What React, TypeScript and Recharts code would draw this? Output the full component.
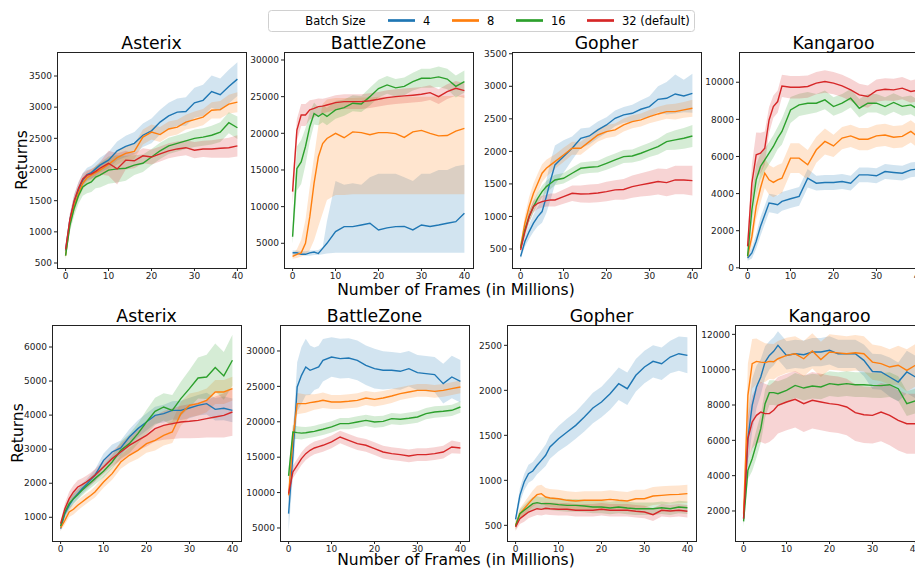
import React from "react";
import { ComposedChart, Area, Line, XAxis, YAxis } from "recharts";

// frames in millions, sampled every unit early on and every 2 later
const frames = [0, 1, 2, 3, 4, 5, 6, 7, 8, 10, 12, 14, 16, 18, 20, 22, 24, 26, 28, 30, 32, 34, 36, 38, 40];
const frameTicks = [0, 10, 20, 30, 40];
const batchSizes = ["4", "8", "16", "32 (default)"];
const colors = ["#1f77b4", "#ff7f0e", "#2ca02c", "#d62728"];

// ---- top row ----
const tAstB = [700, 1190, 1480, 1670, 1830, 1920, 1950, 2010, 2070, 2150, 2300, 2370, 2420, 2550, 2620, 2760, 2860, 2920, 2930, 3070, 3110, 3250, 3200, 3330, 3450];
const tAstBsd = [60, 100, 120, 120, 110, 110, 110, 110, 120, 130, 150, 170, 180, 190, 200, 200, 210, 220, 230, 240, 250, 260, 260, 270, 270];
const tAstO = [620, 1150, 1420, 1620, 1780, 1870, 1910, 1950, 1990, 2080, 2190, 2260, 2290, 2520, 2600, 2560, 2650, 2680, 2760, 2800, 2840, 2950, 2960, 3050, 3080];
const tAstOsd = [50, 90, 100, 100, 100, 100, 100, 100, 100, 100, 110, 110, 120, 120, 120, 120, 120, 120, 120, 130, 130, 130, 140, 150, 160];
const tAstG = [620, 1100, 1380, 1580, 1720, 1770, 1800, 1880, 1910, 1990, 2010, 2020, 2070, 2100, 2200, 2300, 2380, 2420, 2460, 2500, 2520, 2550, 2600, 2750, 2670];
const tAstGsd = [60, 100, 120, 130, 140, 150, 160, 180, 200, 220, 220, 200, 160, 140, 130, 130, 130, 130, 130, 140, 140, 150, 160, 170, 180];
const tAstR = [720, 1200, 1500, 1700, 1850, 1910, 1930, 1970, 2020, 2100, 2010, 2150, 2140, 2220, 2200, 2250, 2300, 2330, 2350, 2310, 2330, 2330, 2340, 2350, 2380];
const tAstRsd = [60, 90, 100, 100, 90, 80, 80, 80, 100, 200, 250, 150, 120, 120, 120, 120, 120, 120, 120, 130, 130, 140, 150, 160, 170];

const tBzB = [3700, 3700, 3500, 3500, 3700, 3800, 3600, 4300, 5000, 6600, 7270, 7270, 7500, 7730, 6820, 7100, 7270, 7300, 6820, 7500, 7300, 7500, 7730, 7950, 9090];
const tBzBlo = [3400, 3400, 3400, 3300, 3300, 3400, 3400, 3500, 3600, 3700, 3700, 3700, 3700, 3700, 3700, 3700, 3700, 3700, 3700, 3700, 3700, 3700, 3700, 3700, 3700];
const tBzBhi = [4000, 4000, 3900, 3900, 4000, 4000, 4100, 4500, 8000, 13500, 13000, 13200, 13000, 14000, 14500, 14500, 14500, 14000, 13500, 14500, 14500, 15000, 15000, 15500, 15700];
const tBzO = [3200, 3500, 3700, 5000, 8600, 13200, 16800, 18600, 19300, 20000, 19400, 20200, 20100, 19800, 20100, 20100, 19950, 19450, 20200, 20400, 20000, 19650, 19700, 20300, 20680];
const tBzOlo = [2900, 3000, 3200, 3400, 4100, 5400, 7300, 9100, 10900, 11600, 11600, 11700, 11700, 11700, 11700, 11700, 11700, 11700, 11700, 11700, 11700, 11700, 11700, 11700, 11700];
const tBzOhi = [3600, 4200, 5500, 8200, 12700, 16800, 21000, 24000, 24600, 24800, 24800, 24800, 24900, 24900, 25000, 25000, 25000, 25000, 25000, 25000, 25000, 25100, 25100, 25100, 25200];
const tBzG = [5900, 15200, 16100, 18200, 20900, 22700, 22300, 22700, 22300, 23200, 23500, 24100, 24000, 25000, 26100, 26600, 26200, 26400, 27050, 27500, 27500, 27700, 27400, 26400, 27050];
const tBzGsd = [1000, 3000, 3000, 2500, 2000, 1500, 1200, 1200, 1200, 1200, 1100, 1100, 1100, 1200, 1200, 1200, 1200, 1200, 1200, 1300, 1300, 1400, 1400, 1500, 1500];
const tBzR = [12050, 20450, 22500, 22500, 23200, 23400, 23640, 23700, 23860, 24180, 24320, 24320, 24320, 24450, 24640, 24860, 25000, 25100, 25200, 25320, 25550, 25000, 25680, 26140, 25820];
const tBzRsd = [1800, 1500, 1500, 1500, 1300, 1200, 1100, 1000, 1000, 1000, 1000, 1000, 1000, 1000, 1000, 1000, 1000, 1000, 1000, 1000, 1000, 1000, 1000, 1000, 1000];

const tGoB = [384, 614, 768, 896, 998, 1075, 1305, 1561, 1792, 1920, 2048, 2200, 2237, 2330, 2406, 2508, 2560, 2585, 2647, 2688, 2800, 2816, 2882, 2852, 2892];
const tGoBsd = [40, 80, 110, 130, 150, 170, 250, 300, 300, 250, 180, 150, 130, 130, 120, 120, 120, 130, 140, 160, 200, 250, 300, 250, 300];
const tGoO = [537, 896, 1152, 1357, 1510, 1664, 1740, 1792, 1843, 1945, 2048, 2048, 2150, 2252, 2304, 2330, 2406, 2457, 2483, 2534, 2575, 2611, 2611, 2637, 2662];
const tGoOsd = [60, 120, 150, 150, 150, 140, 130, 120, 110, 110, 100, 100, 100, 100, 100, 100, 100, 100, 100, 100, 110, 110, 120, 120, 130];
const tGoG = [512, 793, 998, 1152, 1280, 1382, 1459, 1510, 1561, 1587, 1664, 1740, 1756, 1766, 1817, 1868, 1920, 1930, 1971, 2022, 2073, 2150, 2176, 2201, 2237];
const tGoGsd = [50, 80, 90, 90, 90, 90, 90, 90, 80, 80, 90, 90, 90, 90, 100, 100, 100, 100, 110, 110, 120, 130, 150, 160, 170];
const tGoR = [486, 768, 998, 1152, 1203, 1228, 1244, 1254, 1254, 1305, 1356, 1346, 1350, 1360, 1382, 1408, 1415, 1459, 1485, 1510, 1536, 1520, 1561, 1561, 1551];
const tGoRsd = [50, 80, 90, 90, 90, 90, 90, 100, 100, 110, 120, 130, 140, 140, 150, 150, 160, 170, 180, 190, 200, 210, 220, 220, 230];

const tKaB = [530, 800, 1430, 2230, 2860, 3490, 3450, 3400, 3580, 3720, 3850, 4830, 4560, 4600, 4600, 4650, 4560, 5010, 5010, 4960, 5190, 5140, 5100, 5280, 5330];
const tKaBsd = [150, 300, 400, 500, 500, 500, 500, 500, 500, 500, 500, 500, 400, 400, 400, 400, 400, 400, 400, 400, 400, 400, 400, 400, 400];
const tKaO = [620, 1690, 3310, 4300, 5100, 4740, 4600, 4740, 4830, 5910, 5910, 5550, 6360, 6810, 6570, 6990, 7110, 6930, 6930, 7110, 7160, 7040, 7080, 7350, 7000];
const tKaOsd = [200, 500, 700, 800, 800, 800, 800, 800, 800, 800, 800, 800, 700, 700, 600, 600, 600, 600, 600, 600, 600, 600, 600, 600, 600];
const tKaG = [620, 3130, 4740, 5460, 5820, 6180, 6540, 6990, 7350, 8510, 8780, 8870, 8870, 9050, 8690, 8870, 9140, 8600, 8870, 8870, 8690, 8910, 8700, 8780, 8510];
const tKaGsd = [200, 800, 800, 700, 600, 600, 600, 600, 700, 700, 600, 600, 500, 500, 500, 500, 500, 500, 500, 500, 500, 500, 500, 500, 500];
const tKaR = [1155, 4565, 6090, 6180, 6450, 7970, 8690, 8960, 9800, 9730, 9730, 9770, 9950, 10040, 9950, 9800, 9590, 9320, 9230, 9550, 9620, 9590, 9680, 9500, 9590];
const tKaRsd = [400, 1000, 1200, 1100, 900, 700, 600, 600, 600, 600, 600, 600, 600, 600, 600, 600, 600, 600, 600, 600, 600, 600, 600, 600, 600];

// ---- bottom row ----
const bAstB = [667, 1107, 1352, 1548, 1695, 1842, 1959, 2100, 2233, 2673, 2918, 3035, 3358, 3603, 3798, 3994, 4043, 4140, 4140, 4210, 4288, 4336, 4170, 4200, 4140];
const bAstBsd = [80, 120, 150, 150, 150, 150, 150, 160, 170, 200, 220, 220, 230, 250, 250, 250, 260, 270, 280, 300, 300, 320, 330, 350, 350];
const bAstO = [687, 910, 1156, 1235, 1352, 1450, 1548, 1640, 1743, 2037, 2282, 2624, 2820, 2966, 3162, 3260, 3407, 3505, 4043, 4288, 4337, 4434, 4679, 4680, 4777];
const bAstOsd = [80, 120, 150, 150, 150, 150, 150, 150, 160, 170, 180, 200, 220, 250, 270, 300, 300, 320, 350, 350, 350, 350, 350, 350, 350];
const bAstG = [745, 1156, 1400, 1548, 1665, 1793, 1910, 2020, 2135, 2350, 2624, 2966, 3162, 3456, 3798, 4111, 4239, 4140, 4483, 4777, 5090, 5120, 5400, 5150, 5610];
const bAstGsd = [80, 120, 150, 150, 150, 150, 150, 160, 170, 180, 200, 250, 280, 300, 350, 400, 400, 450, 500, 550, 600, 650, 700, 700, 750];
const bAstR = [814, 1254, 1548, 1743, 1890, 1959, 2037, 2130, 2233, 2477, 2722, 2918, 3113, 3260, 3407, 3603, 3700, 3750, 3798, 3818, 3847, 3896, 3945, 3994, 4092];
const bAstRsd = [80, 150, 200, 200, 200, 190, 180, 180, 180, 200, 220, 250, 280, 300, 330, 380, 420, 450, 480, 500, 520, 550, 600, 650, 700];

const bBzB = [7025, 15260, 24915, 26560, 27740, 27270, 27500, 27740, 28680, 29150, 28920, 29000, 28680, 27980, 27500, 27270, 27270, 27130, 27500, 26940, 26800, 26660, 25390, 26330, 25710];
const bBzBsd = [2500, 3000, 3500, 4000, 4000, 3500, 3000, 3000, 3000, 2800, 2800, 2800, 2800, 2800, 2800, 2700, 2600, 2600, 2500, 2500, 2500, 2500, 2800, 3000, 3000];
const bBzO = [9600, 17620, 22560, 22560, 22560, 22700, 22800, 22900, 23030, 22800, 22800, 22900, 23030, 23360, 23170, 23360, 23640, 23970, 24210, 24440, 24440, 24300, 24440, 24680, 24920];
const bBzOsd = [1000, 1800, 1500, 1400, 1300, 1200, 1100, 1100, 1100, 1000, 1000, 1000, 1000, 1000, 1000, 1000, 1000, 900, 900, 900, 900, 900, 900, 900, 900];
const bBzG = [12350, 18560, 18470, 18400, 18450, 18550, 18650, 18800, 18940, 19270, 19740, 19740, 19970, 20200, 19970, 20050, 20440, 20350, 20500, 20680, 21150, 21380, 21480, 21620, 22090];
const bBzGsd = [1000, 1000, 900, 900, 800, 800, 800, 800, 800, 800, 800, 800, 800, 800, 800, 800, 800, 800, 800, 800, 800, 800, 800, 800, 800];
const bBzR = [9850, 12910, 13850, 14790, 15500, 15970, 16300, 16500, 16680, 17150, 17850, 17380, 16910, 16680, 16200, 15730, 15500, 15360, 15170, 15360, 15360, 15500, 15730, 16440, 16300];
const bBzRsd = [800, 900, 900, 900, 900, 900, 900, 900, 900, 900, 900, 900, 900, 900, 900, 900, 900, 900, 900, 900, 900, 900, 900, 900, 800];

const bGoB = [566, 833, 981, 1074, 1104, 1167, 1222, 1278, 1370, 1463, 1537, 1611, 1704, 1804, 1870, 1963, 2074, 2018, 2167, 2259, 2322, 2296, 2370, 2407, 2389];
const bGoBsd = [40, 80, 90, 100, 100, 100, 110, 120, 130, 140, 150, 150, 160, 170, 170, 180, 180, 180, 180, 180, 180, 180, 180, 190, 200];
const bGoO = [500, 630, 685, 741, 796, 841, 852, 815, 804, 796, 778, 770, 778, 778, 778, 789, 778, 770, 796, 796, 826, 833, 841, 844, 852];
const bGoOsd = [40, 60, 70, 80, 90, 100, 100, 100, 100, 100, 100, 100, 100, 100, 100, 100, 100, 100, 100, 100, 100, 100, 100, 100, 100];
const bGoG = [492, 630, 667, 704, 741, 752, 741, 741, 741, 730, 722, 722, 715, 704, 704, 693, 704, 693, 685, 685, 685, 696, 685, 704, 696];
const bGoGsd = [40, 50, 60, 70, 70, 70, 70, 70, 70, 70, 70, 70, 70, 70, 70, 70, 70, 70, 70, 70, 70, 70, 70, 70, 70];
const bGoR = [481, 574, 611, 648, 667, 685, 678, 690, 685, 678, 678, 667, 667, 667, 678, 667, 667, 667, 656, 648, 619, 667, 660, 667, 656];
const bGoRsd = [40, 60, 70, 70, 70, 70, 70, 70, 70, 70, 70, 70, 70, 70, 70, 70, 70, 70, 70, 70, 70, 70, 70, 70, 70];

const bKaB = [1565, 6100, 7980, 9020, 9585, 10430, 10810, 11040, 11380, 10810, 10900, 10850, 11000, 11000, 11100, 10900, 10900, 10900, 10530, 9900, 9870, 9585, 9300, 9870, 9585];
const bKaBsd = [300, 1500, 1500, 1200, 1000, 900, 800, 800, 800, 800, 800, 800, 800, 800, 800, 800, 800, 800, 900, 1000, 1000, 1100, 1100, 1200, 1200];
const bKaO = [1850, 8550, 10340, 10470, 10430, 10400, 10470, 10450, 10620, 10810, 10900, 10620, 11060, 10580, 11000, 10950, 10900, 10960, 10900, 10430, 10340, 10150, 10250, 9960, 10250];
const bKaOsd = [400, 1800, 1400, 1300, 1200, 1100, 1000, 1000, 1000, 1000, 1000, 1000, 1000, 1000, 1000, 1000, 1000, 1000, 1000, 1000, 1000, 1000, 1100, 1200, 1200];
const bKaG = [1410, 4300, 4960, 5810, 6660, 8075, 8700, 8700, 8640, 8830, 9110, 8960, 9075, 9020, 9210, 9150, 9210, 9150, 9150, 9110, 9100, 9150, 8925, 8075, 8230];
const bKaGsd = [300, 500, 700, 800, 800, 800, 700, 700, 700, 700, 700, 700, 700, 700, 700, 700, 700, 700, 700, 700, 700, 700, 700, 700, 700];
const bKaR = [1565, 6100, 7040, 7415, 7600, 7510, 7510, 7700, 7980, 8170, 8320, 8075, 8265, 8170, 8075, 8020, 7890, 7565, 7450, 7415, 7600, 7415, 7130, 6940, 6940];
const bKaRsd = [300, 1200, 1500, 1600, 1700, 1700, 1600, 1600, 1600, 1600, 1600, 1600, 1600, 1600, 1600, 1600, 1600, 1600, 1600, 1600, 1650, 1700, 1700, 1700, 1700];

// layout (px)
const YW = 46;
const MT = 10;
const MR = 10;
const XH = 22;
const PW = 189;
const PH = 216;
const font = "'DejaVu Sans', sans-serif";

type Series = { mean: number[]; sd?: number[]; lo?: number[]; hi?: number[] };
type PanelDef = { game: string; left: number; top: number; domain: number[]; ticks: number[]; series: Series[] };

const panels: PanelDef[] = [
  {
    game: "Asterix", left: 57, top: 52, domain: [420, 3885],
    ticks: [500, 1000, 1500, 2000, 2500, 3000, 3500],
    series: [
      { mean: tAstB, sd: tAstBsd }, { mean: tAstO, sd: tAstOsd },
      { mean: tAstG, sd: tAstGsd }, { mean: tAstR, sd: tAstRsd },
    ],
  },
  {
    game: "BattleZone", left: 284, top: 52, domain: [1630, 31090],
    ticks: [5000, 10000, 15000, 20000, 25000, 30000],
    series: [
      { mean: tBzB, lo: tBzBlo, hi: tBzBhi }, { mean: tBzO, lo: tBzOlo, hi: tBzOhi },
      { mean: tBzG, sd: tBzGsd }, { mean: tBzR, sd: tBzRsd },
    ],
  },
  {
    game: "Gopher", left: 512, top: 52, domain: [208, 3527],
    ticks: [500, 1000, 1500, 2000, 2500, 3000, 3500],
    series: [
      { mean: tGoB, sd: tGoBsd }, { mean: tGoO, sd: tGoOsd },
      { mean: tGoG, sd: tGoGsd }, { mean: tGoR, sd: tGoRsd },
    ],
  },
  {
    game: "Kangaroo", left: 739, top: 52, domain: [-10, 11630],
    ticks: [0, 2000, 4000, 6000, 8000, 10000],
    series: [
      { mean: tKaB, sd: tKaBsd }, { mean: tKaO, sd: tKaOsd },
      { mean: tKaG, sd: tKaGsd }, { mean: tKaR, sd: tKaRsd },
    ],
  },
  {
    game: "Asterix", left: 52, top: 325, domain: [304, 6646],
    ticks: [1000, 2000, 3000, 4000, 5000, 6000],
    series: [
      { mean: bAstB, sd: bAstBsd }, { mean: bAstO, sd: bAstOsd },
      { mean: bAstG, sd: bAstGsd }, { mean: bAstR, sd: bAstRsd },
    ],
  },
  {
    game: "BattleZone", left: 280, top: 325, domain: [3160, 33670],
    ticks: [5000, 10000, 15000, 20000, 25000, 30000],
    series: [
      { mean: bBzB, sd: bBzBsd }, { mean: bBzO, sd: bBzOsd },
      { mean: bBzG, sd: bBzGsd }, { mean: bBzR, sd: bBzRsd },
    ],
  },
  {
    game: "Gopher", left: 507, top: 325, domain: [326, 2726],
    ticks: [500, 1000, 1500, 2000, 2500],
    series: [
      { mean: bGoB, sd: bGoBsd }, { mean: bGoO, sd: bGoOsd },
      { mean: bGoG, sd: bGoGsd }, { mean: bGoR, sd: bGoRsd },
    ],
  },
  {
    game: "Kangaroo", left: 735, top: 325, domain: [300, 12530],
    ticks: [2000, 4000, 6000, 8000, 10000, 12000],
    series: [
      { mean: bKaB, sd: bKaBsd }, { mean: bKaO, sd: bKaOsd },
      { mean: bKaG, sd: bKaGsd }, { mean: bKaR, sd: bKaRsd },
    ],
  },
];

function Panel({ p }: { p: PanelDef }) {
  const data = frames.map((f, i) => {
    const row: any = { f };
    p.series.forEach((s, k) => {
      row["m" + k] = s.mean[i];
      row["b" + k] = s.lo && s.hi ? [s.lo[i], s.hi[i]] : [s.mean[i] - s.sd![i], s.mean[i] + s.sd![i]];
    });
    return row;
  });
  const tick = { fontSize: 9, fill: "#222", fontFamily: font };
  return (
    <div style={{ position: "absolute", left: p.left - YW, top: p.top - MT }}>
      <ComposedChart
        width={YW + PW + MR}
        height={MT + PH + XH}
        data={data}
        margin={{ top: MT, right: MR, left: 0, bottom: 0 }}
      >
        <XAxis
          dataKey="f"
          type="number"
          domain={[-2, 42]}
          ticks={frameTicks}
          interval={0}
          allowDataOverflow
          axisLine={false}
          tickSize={3}
          tickMargin={2}
          tickLine={{ stroke: "#222" }}
          tick={tick}
          height={XH}
        />
        <YAxis
          type="number"
          domain={p.domain}
          ticks={p.ticks}
          interval={0}
          allowDataOverflow
          axisLine={false}
          tickSize={3}
          tickMargin={2}
          tickLine={{ stroke: "#222" }}
          tick={tick}
          width={YW}
        />
        {p.series.flatMap((s, k) => [
          <Area
            key={"a" + k}
            dataKey={"b" + k}
            type="linear"
            stroke="none"
            fill={colors[k]}
            fillOpacity={0.2}
            dot={false}
            activeDot={false}
            isAnimationActive={false}
          />,
          <Line
            key={"l" + k}
            dataKey={"m" + k}
            type="linear"
            stroke={colors[k]}
            strokeWidth={1.4}
            dot={false}
            activeDot={false}
            isAnimationActive={false}
          />,
        ])}
      </ComposedChart>
    </div>
  );
}

const legendSwatches = [388, 452, 516, 587];

export default function App() {
  return (
    <div
      style={{
        position: "absolute",
        left: 0,
        top: 0,
        width: 915,
        height: 569,
        overflow: "hidden",
        background: "#fff",
        fontFamily: font,
      }}
    >
      {panels.map((p, i) => (
        <Panel key={i} p={p} />
      ))}
      <svg
        width={915}
        height={569}
        style={{ position: "absolute", left: 0, top: 0, pointerEvents: "none", fontFamily: font }}
      >
        {panels.map((p, i) => (
          <g key={i}>
            <rect x={p.left + 0.5} y={p.top + 0.5} width={PW} height={PH} fill="none" stroke="#222" strokeWidth={1} />
            <text x={p.left + PW / 2} y={p.top - 3.5} textAnchor="middle" fontSize={17.3} fill="#000">
              {p.game}
            </text>
          </g>
        ))}
        <text transform="translate(26.5,160) rotate(-90)" textAnchor="middle" fontSize={15.5} fill="#000">
          Returns
        </text>
        <text transform="translate(22.5,433) rotate(-90)" textAnchor="middle" fontSize={15.5} fill="#000">
          Returns
        </text>
        <text x={456} y={295} textAnchor="middle" fontSize={15.5} fill="#000">
          Number of Frames (in Millions)
        </text>
        <text x={456} y={565} textAnchor="middle" fontSize={15.5} fill="#000">
          Number of Frames (in Millions)
        </text>
        <rect x={268.5} y={10.5} width={426} height={21} rx={3} fill="#fff" fillOpacity={0.8} stroke="#d0d0d0" />
        <text x={335.5} y={24.5} textAnchor="middle" fontSize={11.5} fill="#000">
          Batch Size
        </text>
        {batchSizes.map((b, k) => (
          <g key={b}>
            <line
              x1={legendSwatches[k]}
              x2={legendSwatches[k] + 27}
              y1={20.5}
              y2={20.5}
              stroke={colors[k]}
              strokeWidth={2.7}
            />
            <text x={legendSwatches[k] + 35} y={24.5} fontSize={11.5} fill="#000">
              {b}
            </text>
          </g>
        ))}
      </svg>
    </div>
  );
}
